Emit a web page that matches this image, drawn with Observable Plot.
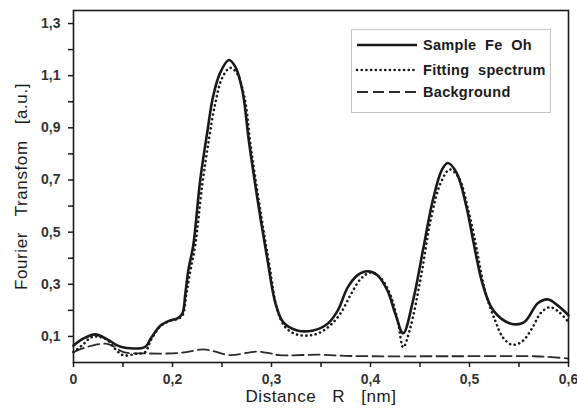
<!DOCTYPE html>
<html>
<head>
<meta charset="utf-8">
<script src="https://cdn.jsdelivr.net/npm/d3@7"></script>
<script src="https://cdn.jsdelivr.net/npm/@observablehq/plot@0.6"></script>
<style>
  html, body { margin: 0; padding: 0; background: #fff; }
  svg text { white-space: pre; }
</style>
</head>
<body>
<div id="chart"></div>
<script>
// ---- Data ----
const sampleR  = [0, 0.02, 0.044, 0.069, 0.095, 0.145, 0.156, 0.176, 0.196, 0.205, 0.210, 0.213, 0.216, 0.221, 0.228, 0.235, 0.241, 0.248, 0.257, 0.264, 0.271, 0.277, 0.286, 0.296, 0.304, 0.312, 0.326, 0.342, 0.357, 0.367, 0.377, 0.387, 0.397, 0.407, 0.417, 0.425, 0.433, 0.443, 0.453, 0.463, 0.472, 0.478, 0.487, 0.497, 0.503, 0.507, 0.513, 0.524, 0.541, 0.555, 0.569, 0.579, 0.589, 0.6];
const sampleFT = [0.065, 0.092, 0.108, 0.088, 0.06, 0.06, 0.092, 0.142, 0.162, 0.169, 0.188, 0.265, 0.354, 0.45, 0.70, 0.88, 1.02, 1.11, 1.16, 1.13, 1.035, 0.854, 0.623, 0.392, 0.227, 0.154, 0.123, 0.123, 0.15, 0.20, 0.288, 0.335, 0.35, 0.335, 0.277, 0.188, 0.112, 0.238, 0.431, 0.623, 0.738, 0.765, 0.727, 0.596, 0.481, 0.404, 0.304, 0.20, 0.15, 0.154, 0.227, 0.242, 0.219, 0.181];

const fitR  = [0, 0.02, 0.034, 0.048, 0.069, 0.085, 0.101, 0.125, 0.145, 0.156, 0.176, 0.196, 0.205, 0.210, 0.214, 0.218, 0.223, 0.230, 0.237, 0.243, 0.250, 0.258, 0.265, 0.273, 0.279, 0.288, 0.298, 0.306, 0.314, 0.326, 0.339, 0.349, 0.360, 0.370, 0.380, 0.390, 0.400, 0.410, 0.420, 0.428, 0.433, 0.440, 0.451, 0.461, 0.471, 0.480, 0.489, 0.499, 0.506, 0.510, 0.516, 0.526, 0.534, 0.543, 0.553, 0.563, 0.572, 0.581, 0.590, 0.6];
const fitFT = [0.04, 0.07, 0.095, 0.10, 0.085, 0.05, 0.027, 0.033, 0.04, 0.085, 0.14, 0.16, 0.167, 0.18, 0.26, 0.35, 0.45, 0.68, 0.86, 0.99, 1.09, 1.13, 1.11, 1.01, 0.83, 0.60, 0.37, 0.20, 0.135, 0.107, 0.104, 0.115, 0.145, 0.19, 0.26, 0.32, 0.345, 0.325, 0.26, 0.15, 0.058, 0.13, 0.33, 0.55, 0.69, 0.74, 0.71, 0.58, 0.46, 0.38, 0.27, 0.16, 0.095, 0.068, 0.08, 0.13, 0.19, 0.212, 0.195, 0.155];

const bgR  = [0, 0.02, 0.044, 0.065, 0.081, 0.101, 0.141, 0.208, 0.231, 0.243, 0.258, 0.285, 0.299, 0.308, 0.349, 0.380, 0.481, 0.565, 0.582, 0.6];
const bgFT = [0.04, 0.055, 0.068, 0.072, 0.062, 0.04, 0.035, 0.037, 0.05, 0.042, 0.028, 0.042, 0.035, 0.028, 0.03, 0.025, 0.024, 0.024, 0.021, 0.015];

const xMajorTicks = [0, 0.2, 0.3, 0.4, 0.5, 0.6];
const xMajorLabels = ["0", "0,2", "0,3", "0,4", "0,5", "0,6"];
const xMinorTicks = [0.1, 0.25, 0.35, 0.45, 0.55];
const yMajorTicks = [0.1, 0.3, 0.5, 0.7, 0.9, 1.1, 1.3];
const yMajorLabels = ["0,1", "0,3", "0,5", "0,7", "0,9", "1,1", "1,3"];
const yMinorTicks = [0.2, 0.4, 0.6, 0.8, 1.0, 1.2];

const seriesNames = ["Sample  Fe  Oh", "Fitting  spectrum", "Background"];
const xTitle = "Distance   R   [nm]";
const yTitle = "Fourier   Transfom   [a.u.]";

// ---- Build ----
const toRows = (xs, ys) => xs.map((r, i) => ({r, v: ys[i]}));
const sample = toRows(sampleR, sampleFT);
const fit = toRows(fitR, fitFT);
const bg = toRows(bgR, bgFT);

const W = 577, H = 415;
const mL = 73, mR = 9, mT = 10, mB = 53;
const font = "'Liberation Sans', Arial, Helvetica, sans-serif";
const ink = "#1a1a1a";

const styles = [
  {stroke: ink, strokeWidth: 2.6},
  {stroke: ink, strokeWidth: 2.6, strokeDasharray: "0.1 4.6", strokeLinecap: "round"},
  {stroke: "#2a2a2a", strokeWidth: 1.8, strokeDasharray: "11 5"}
];

const chart = Plot.plot({
  width: W, height: H,
  marginLeft: mL, marginRight: mR, marginTop: mT, marginBottom: mB,
  style: {fontFamily: font, background: "#fff", color: ink},
  x: {type: "linear", domain: [0, 0.2, 0.6], range: [mL, mL + 99, W - mR]},
  y: {domain: [0, 1.35]},
  marks: [
    Plot.axisX(xMajorTicks, {tickSize: 5, tickPadding: 7, tickFormat: d => xMajorLabels[xMajorTicks.indexOf(d)], fontSize: 14, fontWeight: "bold", label: null, stroke: ink, strokeWidth: 1.5, fill: "#333"}),
    Plot.axisX(xMinorTicks, {tickSize: 5, tickFormat: () => "", label: null, stroke: ink, strokeWidth: 1.5}),
    Plot.axisY(yMajorTicks, {tickSize: 5, tickPadding: 8, tickFormat: d => yMajorLabels[yMajorTicks.indexOf(d)], fontSize: 14, fontWeight: "bold", label: null, stroke: ink, strokeWidth: 1.5, fill: "#333"}),
    Plot.axisY(yMinorTicks, {tickSize: 5, tickFormat: () => "", label: null, stroke: ink, strokeWidth: 1.5}),
    Plot.line(bg, {x: "r", y: "v", curve: "catmull-rom", ...styles[2]}),
    Plot.line(fit, {x: "r", y: "v", curve: "catmull-rom", ...styles[1]}),
    Plot.line(sample, {x: "r", y: "v", curve: "catmull-rom", ...styles[0]}),
    Plot.frame({stroke: ink, strokeWidth: 1.6}),
    Plot.text([xTitle], {frameAnchor: "bottom", dy: 34, fontSize: 17, fill: ink, lineAnchor: "middle", textAnchor: "middle"}),
    Plot.text([yTitle], {frameAnchor: "left", dx: -52, rotate: -90, fontSize: 17, fill: ink, lineAnchor: "middle", textAnchor: "middle"})
  ]
});

// Legend (inside the plot, upper right)
const svg = d3.select(chart);
const lg = svg.append("g").attr("text-anchor", "start");
lg.append("rect").attr("x", 351.5).attr("y", 29.5).attr("width", 199).attr("height", 83)
  .attr("fill", "#fff").attr("stroke", "#c4c4c4").attr("stroke-width", 1);
const rowY = [45, 70, 92];
seriesNames.forEach((name, i) => {
  const s = styles[i];
  const ln = lg.append("line").attr("x1", 357).attr("x2", 417).attr("y1", rowY[i]).attr("y2", rowY[i])
    .attr("stroke", s.stroke).attr("stroke-width", s.strokeWidth);
  if (s.strokeDasharray) ln.attr("stroke-dasharray", s.strokeDasharray);
  if (s.strokeLinecap) ln.attr("stroke-linecap", s.strokeLinecap);
  lg.append("text").attr("x", 423).attr("y", rowY[i]).attr("dy", "0.35em")
    .attr("text-anchor", "start")
    .attr("font-family", font).attr("font-size", 14.5).attr("font-weight", "bold")
    .attr("fill", ink).style("white-space", "pre").style("letter-spacing", "0.3px").text(name);
});

// letter spacing on titles to match the wide setting of the original
svg.selectAll("text").filter(function() { return this.textContent === xTitle || this.textContent === yTitle; })
  .style("letter-spacing", "0.6px");

document.getElementById("chart").appendChild(chart);
</script>
</body>
</html>
